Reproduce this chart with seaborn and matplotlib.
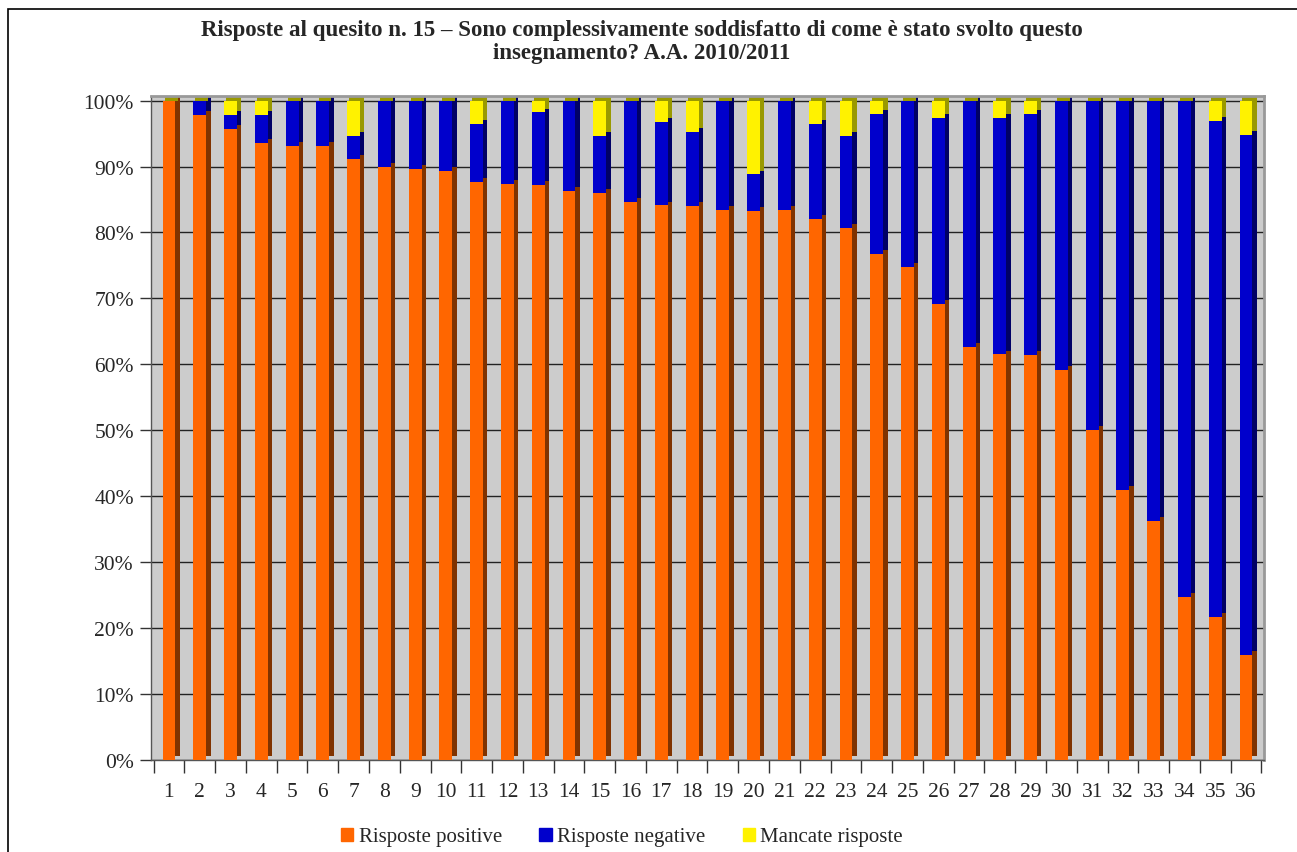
import numpy as np
import pandas as pd
import matplotlib
matplotlib.use("Agg")
import matplotlib.pyplot as plt
import seaborn as sns
from matplotlib.patches import Rectangle
from matplotlib.ticker import FixedLocator, PercentFormatter

categories = [str(i) for i in range(1, 37)]
positive = [100.0, 97.8, 95.7, 93.6, 93.1, 93.1, 91.1, 89.9, 89.6, 89.3, 87.6, 87.4,
            87.2, 86.3, 86.0, 84.6, 84.1, 84.0, 83.4, 83.2, 83.4, 82.0, 80.7, 76.7,
            74.8, 69.1, 62.6, 61.5, 61.4, 59.1, 50.0, 40.9, 36.2, 24.7, 21.7, 15.9]
missing = [0.0, 0.0, 2.2, 2.2, 0.0, 0.0, 5.3, 0.0, 0.0, 0.0, 3.6, 0.0,
           1.8, 0.0, 5.3, 0.0, 3.3, 4.7, 0.0, 11.2, 0.0, 3.6, 5.3, 2.0,
           0.0, 2.7, 0.0, 2.7, 2.0, 0.0, 0.0, 0.0, 0.0, 0.0, 3.1, 5.2]
negative = [round(100.0 - p - m, 1) for p, m in zip(positive, missing)]
series_names = ["Risposte positive", "Risposte negative", "Mancate risposte"]
title = ("Risposte al quesito n. 15 \u2013 Sono complessivamente soddisfatto di come \u00e8 stato svolto questo\n"
         "insegnamento? A.A. 2010/2011")

df = pd.DataFrame({"cat": categories, "pos": positive, "neg": negative, "miss": missing})
df["pos_neg"] = df["pos"] + df["neg"]
df["total"] = df["pos_neg"] + df["miss"]

orange, blue, yellow = "#FF6600", "#0000CC", "#FFF200"
orange_d, blue_d, yellow_d = "#803300", "#000066", "#999900"

sns.set_theme(style="white")
plt.rcParams["font.family"] = ["Liberation Serif", "DejaVu Serif"]

fig = plt.figure(figsize=(12.97, 8.53), dpi=100)
ax = fig.add_axes([150.5 / 1297, 1 - 761 / 853, (1264.5 - 150.5) / 1297, (761 - 97) / 853])
ax.set_facecolor("#CCCCCC")

W = 0.42
dx, dy = 0.14, 0.6
xs = np.arange(len(categories))

# depth (side/top faces) drawn from the cumulative data, offset backwards
ax.bar(xs + dx, df["total"], width=W, bottom=dy, color=yellow_d, zorder=2, linewidth=0)
ax.bar(xs + dx, df["pos_neg"], width=W, bottom=dy, color=blue_d, zorder=2.1, linewidth=0)
ax.bar(xs + dx, df["pos"], width=W, bottom=dy, color=orange_d, zorder=2.2, linewidth=0)
ax.bar(xs + dx / 2, [dy] * len(xs), width=W, bottom=df["total"], color=yellow_d, zorder=2.3, linewidth=0)

# front faces: stacked via cumulative totals
sns.barplot(data=df, x="cat", y="total", color=yellow, width=W, saturation=1, ax=ax,
            zorder=3, linewidth=0)
sns.barplot(data=df, x="cat", y="pos_neg", color=blue, width=W, saturation=1, ax=ax,
            zorder=3.1, linewidth=0)
sns.barplot(data=df, x="cat", y="pos", color=orange, width=W, saturation=1, ax=ax,
            zorder=3.2, linewidth=0)

ax.set_xlim(-0.6, 35.6)
ax.set_ylim(0, 100.7)
ax.set_axisbelow(True)
ax.yaxis.set_major_locator(FixedLocator(np.arange(0, 101, 10)))
ax.yaxis.set_major_formatter(PercentFormatter(decimals=0))
ax.grid(axis="y", color="#222222", linewidth=1.0, zorder=0)
ax.grid(axis="x", visible=False)
ax.set_xlabel("")
ax.set_ylabel("")

for side in ["top", "right"]:
    ax.spines[side].set_color("#999999")
    ax.spines[side].set_linewidth(2)
ax.spines["left"].set_color("#555555")
ax.spines["bottom"].set_color("#555555")
ax.spines["left"].set_linewidth(1)
ax.spines["bottom"].set_linewidth(1)

ax.tick_params(axis="y", which="major", direction="out", length=8, width=1, color="#333333",
               labelsize=15.5, pad=4, left=True)
ax.tick_params(axis="x", which="major", length=0, labelsize=15.5, pad=16)
ax.xaxis.set_minor_locator(FixedLocator(np.arange(-0.5, 36, 1.0)))
ax.tick_params(axis="x", which="minor", direction="out", length=9, width=1, color="#333333", bottom=True)

fig.text(0.495, 1 - 42 / 853, title, ha="center", va="center", fontsize=16.5,
         fontweight="bold", linespacing=1.1)

handles = [Rectangle((0, 0), 1, 1, color=c) for c in (orange, blue, yellow)]
fig.legend(handles, series_names, loc="center", bbox_to_anchor=(622 / 1297, 1 - 838 / 853),
           ncol=3, frameon=False, fontsize=15, handlelength=0.6, handleheight=0.6,
           handletextpad=0.25, columnspacing=1.8)

fig.add_artist(Rectangle((8 / 1297, -0.01), 1.1, 1 - 10 / 853 + 0.01, transform=fig.transFigure,
                         fill=False, edgecolor="black", linewidth=1.2))

fig.savefig("out.png", dpi=100)
